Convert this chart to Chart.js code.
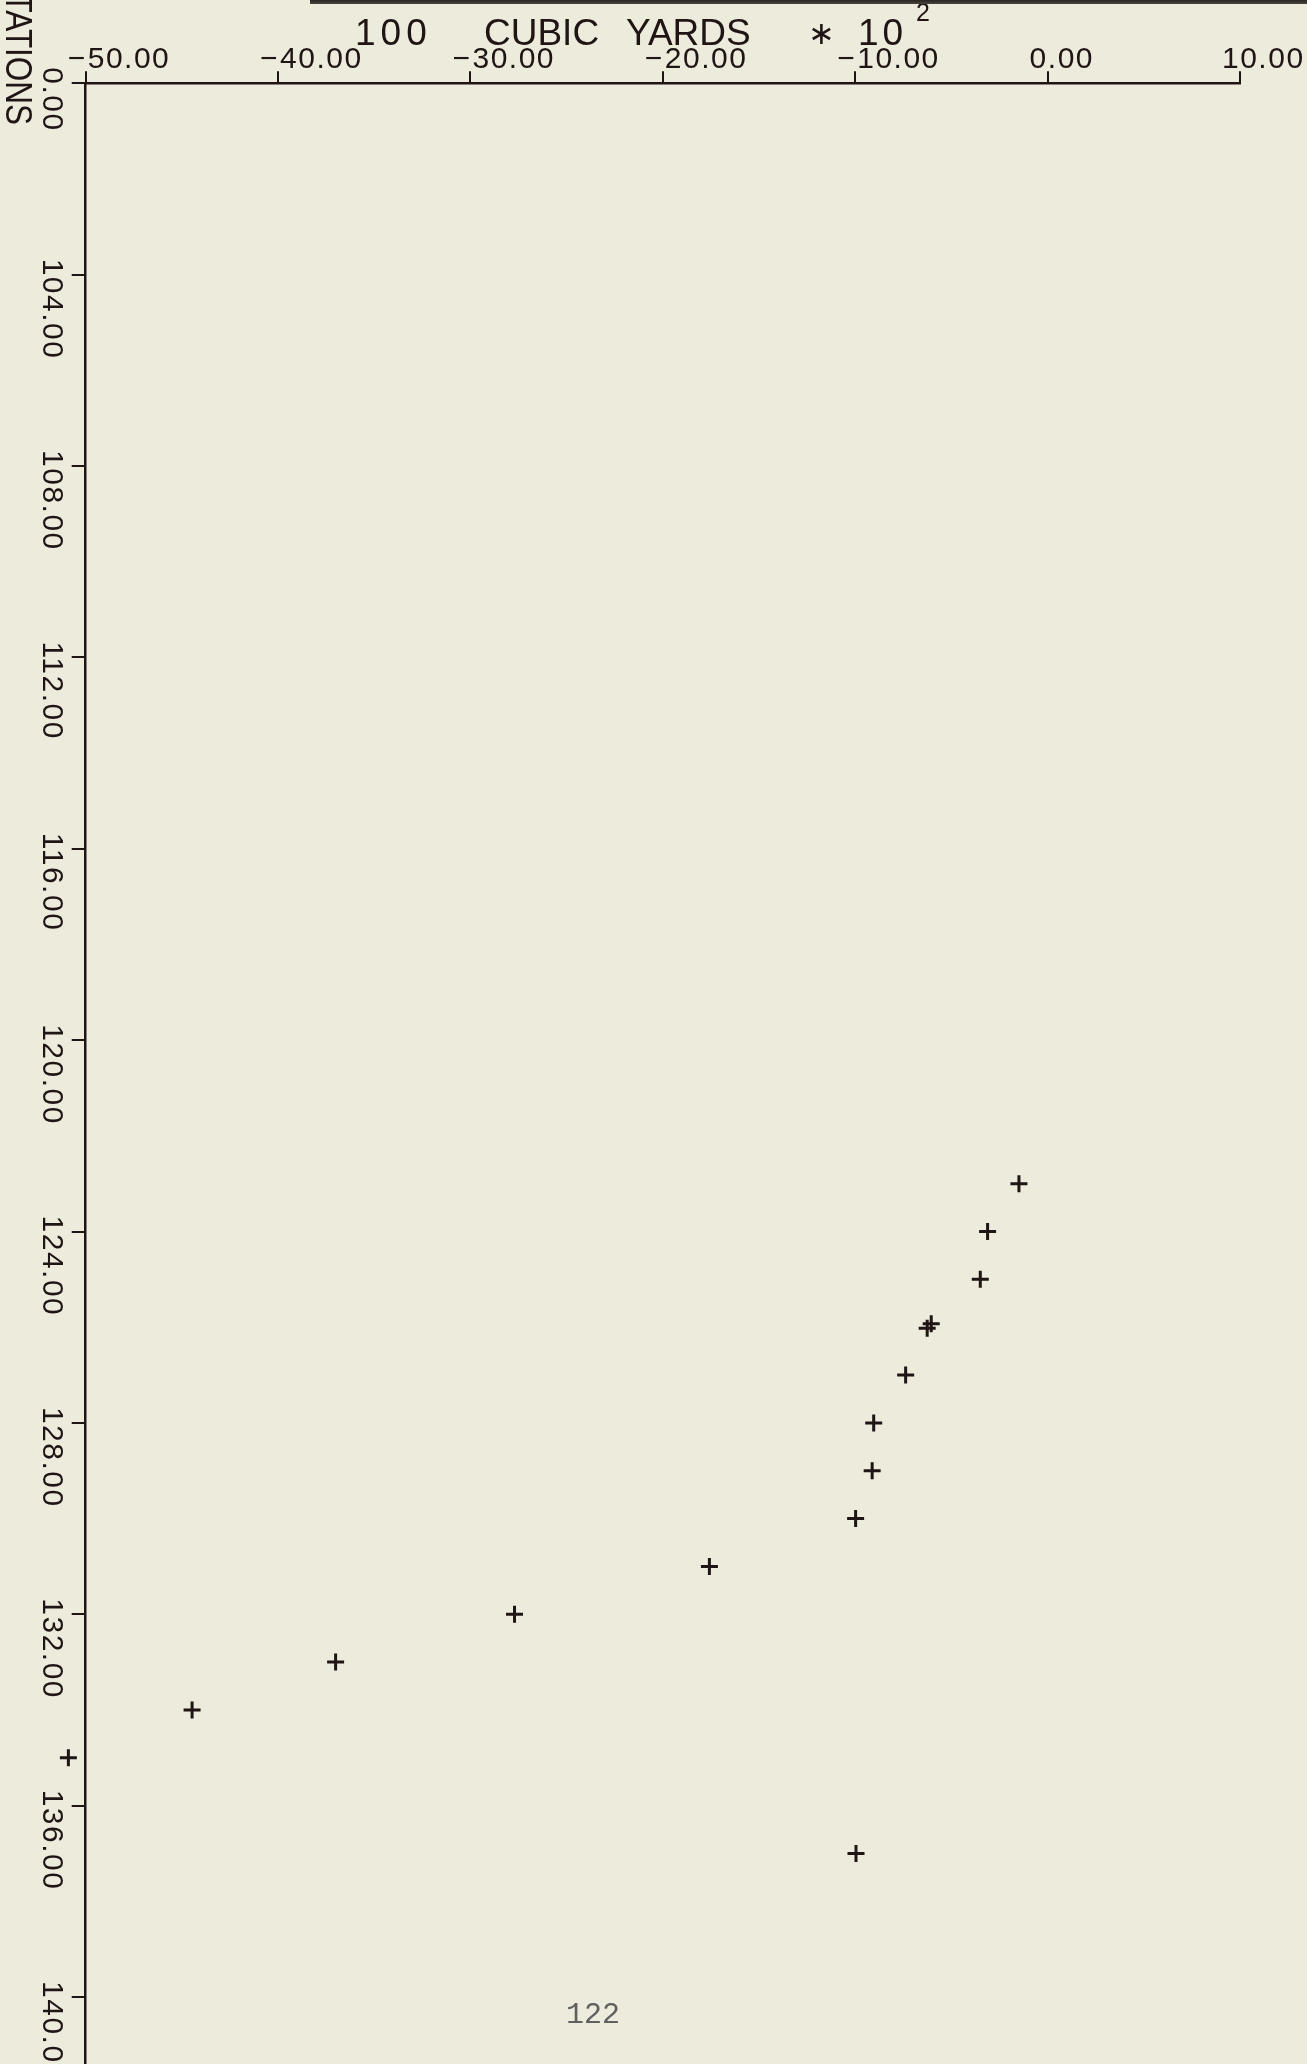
<!DOCTYPE html>
<html>
<head>
<meta charset="utf-8">
<script src="https://cdn.jsdelivr.net/npm/chart.js@4/dist/chart.umd.min.js"></script>
<style>
  html, body { margin: 0; padding: 0; background: #ECEBDC; }
  #wrap { position: relative; width: 1307px; height: 2064px; overflow: hidden; }
  #edge { position: absolute; left: 310px; top: 0; width: 997px; height: 4px;
          background: linear-gradient(#2a2522, #4a4540); }
  canvas { position: absolute; left: 0; top: 0; }
</style>
</head>
<body>
<div id="wrap">
  <canvas id="plot" width="1307" height="2064"></canvas>
  <div id="edge"></div>
</div>
<script>
// Earthwork volume (hundreds of cubic yards, x10^2) by station
const stations   = [123, 124, 125, 125.93, 126.02, 127, 128, 129, 130, 131, 132, 133, 134, 135, 137];
const cubicYards = [-1.49, -3.12, -3.50, -6.05, -6.26, -7.38, -9.04, -9.12, -9.98, -17.58, -27.71, -37.01, -44.47, -50.90, -9.96];

// Axis ticks and their labels as printed by the plotter
const xTickValues = [-50, -40, -30, -20, -10, 0, 10];
const xTickLabels = ['\u221250.00', '\u221240.00', '\u221230.00', '\u221220.00', '\u221210.00', '0.00', '10.00'];
const yTickValues = [100, 104, 108, 112, 116, 120, 124, 128, 132, 136, 140];
const yTickLabels = ['0.00', '104.00', '108.00', '112.00', '116.00', '120.00', '124.00', '128.00', '132.00', '136.00', '140.00'];

const INK = '#1f1515';
const FONT = '"Liberation Sans", "DejaVu Sans", sans-serif';

// Plotter-style lettering: tick labels, axis titles and page number
const lettering = {
  id: 'lettering',
  afterDraw(chart) {
    const { ctx, scales: { x, y } } = chart;
    ctx.save();
    ctx.fillStyle = INK;
    ctx.textAlign = 'left';
    ctx.textBaseline = 'alphabetic';

    // top axis tick labels
    ctx.font = '30px ' + FONT;
    ctx.letterSpacing = '1.5px';
    x.ticks.forEach(t => {
      const i = xTickValues.indexOf(t.value);
      if (i < 0) return;
      const px = x.getPixelForValue(t.value);
      const label = xTickLabels[i];
      if (label.startsWith('\u2212')) {
        ctx.fillText('\u2212', px - 18, 68);
        ctx.fillText(label.slice(1), px + 2, 68);
      } else {
        ctx.fillText(label, px - 18, 68);
      }
    });

    // left axis tick labels, turned to read downward
    y.ticks.forEach(t => {
      const i = yTickValues.indexOf(t.value);
      if (i < 0) return;
      const py = y.getPixelForValue(t.value);
      ctx.save();
      ctx.translate(43, py);
      ctx.rotate(Math.PI / 2);
      ctx.fillText(yTickLabels[i], -16, 0);
      ctx.restore();
    });

    // top axis title
    ctx.font = '37px ' + FONT;
    ctx.letterSpacing = '5px';
    ctx.fillText('100', 355, 45);
    ctx.letterSpacing = '0px';
    ctx.fillText('CUBIC', 484, 45);
    ctx.fillText('YARDS', 626, 45);
    ctx.font = '32px "DejaVu Sans"';
    ctx.fillText('\u2217', 808, 44);
    ctx.font = '37px ' + FONT;
    ctx.letterSpacing = '4px';
    ctx.fillText('10', 858, 45);
    ctx.letterSpacing = '0px';
    ctx.font = '25px ' + FONT;
    ctx.fillText('2', 916, 21);

    // left axis title, running off the sheet
    ctx.font = '37px ' + FONT;
    ctx.save();
    ctx.translate(6, 125);
    ctx.rotate(Math.PI / 2);
    ctx.scale(0.85, 1);
    ctx.textAlign = 'right';
    ctx.fillText('STATIONS', 0, 0);
    ctx.restore();

    // page number
    ctx.font = '30px "Liberation Mono", monospace';
    ctx.fillStyle = '#606060';
    ctx.fillText('122', 566, 2023);
    ctx.restore();
  }
};

new Chart(document.getElementById('plot'), {
  type: 'scatter',
  data: {
    datasets: [{
      data: stations.map((s, i) => ({ x: cubicYards[i], y: s })),
      pointStyle: 'cross',
      pointRadius: 8.5,
      pointHoverRadius: 30,
      pointBorderWidth: 3,
      borderColor: INK,
      backgroundColor: INK,
      clip: false
    }]
  },
  options: {
    responsive: false,
    devicePixelRatio: 1,
    animation: false,
    events: [],
    layout: { padding: { left: 0, top: 0, right: 67, bottom: 0 }, autoPadding: false },
    plugins: { legend: { display: false }, tooltip: { enabled: false }, title: { display: false } },
    scales: {
      x: {
        type: 'linear', position: 'top', min: -50, max: 10,
        ticks: { display: false },
        afterBuildTicks: s => { s.ticks = xTickValues.map(v => ({ value: v })); },
        grid: { drawOnChartArea: false, drawTicks: true, tickLength: 12, color: INK, lineWidth: 2 },
        border: { display: true, color: INK, width: 2.5 },
        afterFit: s => { s.height = 83.3; }
      },
      y: {
        type: 'linear', position: 'left', reverse: true, min: 100, max: 141.4,
        ticks: { display: false },
        afterBuildTicks: s => { s.ticks = yTickValues.map(v => ({ value: v })); },
        grid: { drawOnChartArea: false, drawTicks: true, tickLength: 14, color: INK, lineWidth: 2 },
        border: { display: true, color: INK, width: 2.5 },
        afterFit: s => { s.width = 85.7; }
      }
    }
  },
  plugins: [lettering]
});
</script>
</body>
</html>
